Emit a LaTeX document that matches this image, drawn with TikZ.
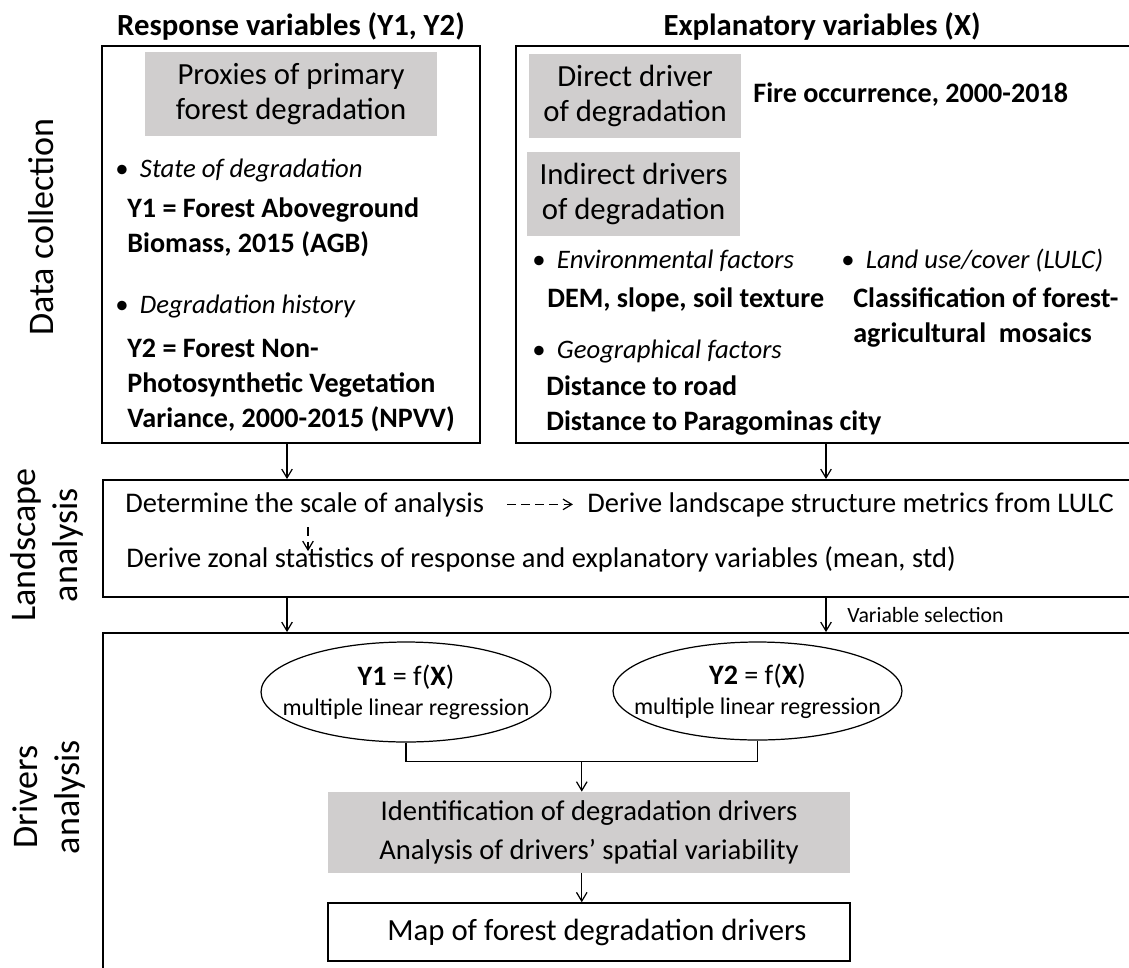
\documentclass[tikz,border=0pt]{standalone}
\usepackage{fontspec}
\setmainfont{Carlito}
\usepackage{xcolor}
\usepackage{tikz}
\usetikzlibrary{arrows.meta}
\usetikzlibrary{calc,positioning}
\usetikzlibrary{shapes,shapes.geometric}
\pgfdeclarelayer{edgelayer}
\pgfdeclarelayer{nodelayer}
\pgfsetlayers{edgelayer,nodelayer,main}
\definecolor{boxgray}{RGB}{208,206,206}
\tikzstyle{outerbox}=[draw=black,line width=1.1pt,inner sep=0pt]
\tikzstyle{graybox}=[fill=boxgray,inner sep=0pt,align=center,font=\fontsize{17.5}{19.8}\selectfont]
\tikzstyle{head}=[inner sep=0pt,anchor=base,font=\fontsize{17.5}{20}\selectfont\bfseries]
\tikzstyle{side}=[inner sep=0pt,rotate=90,align=center,font=\fontsize{20.5}{23.8}\selectfont]
\tikzstyle{cat}=[inner sep=0pt,anchor=base west,font=\fontsize{15.2}{18}\selectfont\itshape]
\tikzstyle{var}=[inner sep=0pt,anchor=base west,align=left,font=\fontsize{16}{19.8}\selectfont\bfseries]
\tikzstyle{txt}=[inner sep=0pt,anchor=base west,font=\fontsize{16.2}{19}\selectfont]
\tikzstyle{reg}=[draw,ellipse,line width=0.7pt,inner sep=0pt,minimum width=5.8cm,minimum height=2cm]
\tikzstyle{regtxt}=[inner sep=0pt,align=center,font=\fontsize{13.6}{17}\selectfont]
\tikzstyle{arr}=[-{Straight Barb[length=5pt,width=6pt]},line width=0.7pt]
\tikzstyle{dasharr}=[arr,dash pattern=on 5pt off 3pt]
\newcommand{\bitem}[1]{\makebox[14pt][l]{\upshape\textbullet}#1}
\newcommand{\fx}[1]{{\fontsize{16}{17}\selectfont\textbf{#1} = f(\textbf{X})}}

\begin{document}
\begin{tikzpicture}[x=0.02cm,y=-0.02cm]
	\useasboundingbox (0,0) rectangle (1129,967);
	\begin{pgfonlayer}{nodelayer}
		% frames of the three stages
		\node [outerbox,minimum width=7.56cm,minimum height=7.94cm] (resp) at (291,244.5) {};
		\node [outerbox,minimum width=12.68cm,minimum height=7.94cm] (expl) at (833,244.5) {};
		\node [outerbox,minimum width=20.94cm,minimum height=2.34cm] (land) at (626.5,538.5) {};
		\node [outerbox,minimum width=20.94cm,minimum height=7.34cm] (drv) at (626.5,816.5) {};
		\node [head] (resphead) at (291,35) {Response variables (Y1, Y2)};
		\node [head] (explhead) at (822,35) {Explanatory variables (X)};
		\node [side,anchor=base] (datalbl) at (53,227) {Data collection};
		\node [side] (landlbl) at (47,545) {Landscape\\analysis};
		\node [side] (drvlbl) at (49,797) {Drivers\\analysis};
		% data collection
		\node [graybox,minimum width=5.84cm,minimum height=1.68cm] (proxy) at (291,94) {Proxies of primary\\forest degradation};
		\node [cat] (state) at (115,177) {\bitem{State of degradation}};
		\node [var] (agb) at (127,252) {Y1 = Forest Aboveground\\Biomass, 2015 (AGB)};
		\node [cat] (hist) at (115,313) {\bitem{Degradation history}};
		\node [var] (npvv) at (127,427) {Y2 = Forest Non-\\Photosynthetic Vegetation\\Variance, 2000-2015 (NPVV)};
		\node [graybox,minimum width=4.24cm,minimum height=1.68cm] (direct) at (635,96) {Direct driver\\of degradation};
		\node [var] (fire) at (753,102) {Fire occurrence, 2000-2018};
		\node [graybox,minimum width=4.26cm,minimum height=1.68cm] (indirect) at (633.5,194) {Indirect drivers\\of degradation};
		\node [cat] (env) at (532,268) {\bitem{Environmental factors}};
		\node [cat] (lulc) at (841,268) {\bitem{Land use/cover (LULC)}};
		\node [var] (dem) at (547,307) {DEM, slope, soil texture};
		\node [var] (mosaic) at (853,342) {Classification of forest-\\agricultural\ \ mosaics};
		\node [cat] (geo) at (532,358) {\bitem{Geographical factors}};
		\node [var] (road) at (546,430) {Distance to road\\Distance to Paragominas city};
		% landscape analysis
		\node [txt] (scale) at (125,512) {Determine the scale of analysis};
		\node [txt] (metrics) at (587,512) {Derive landscape structure metrics from LULC};
		\node [txt] (zonal) at (126,567) {Derive zonal statistics of response and explanatory variables (mean, std)};
		\node [txt,font=\fontsize{12.4}{14}\selectfont] (varsel) at (847,622) {Variable selection};
		% drivers analysis
		\node [reg] (reg1) at (406,692) {};
		\node [regtxt] (reg1txt) at (reg1) {\fx{Y1}\\multiple linear regression};
		\node [reg,minimum width=5.78cm,minimum height=1.96cm] (reg2) at (757.5,691) {};
		\node [regtxt] (reg2txt) at (reg2) {\fx{Y2}\\multiple linear regression};
		\node [graybox,minimum width=10.44cm,minimum height=1.62cm,font=\fontsize{16.3}{22}\selectfont] (ident) at (589,832.5) {Identification of degradation drivers\\Analysis of drivers' spatial variability};
		\node [outerbox,line width=0.8pt,minimum width=10.44cm,minimum height=1.16cm,font=\fontsize{17.5}{20}\selectfont] (map) at (589,932) {\hspace{9pt}Map of forest degradation drivers};
	\end{pgfonlayer}
	\begin{pgfonlayer}{edgelayer}
		\coordinate (xl) at (287,0);
		\coordinate (xr) at (826,0);
		\coordinate (xd) at (308,0);
		\draw [arr] (resp.south -| xl) -- (land.north -| xl);
		\draw [arr] (expl.south -| xr) -- (land.north -| xr);
		\draw [arr] (land.south -| xl) -- (drv.north -| xl);
		\draw [arr] (land.south -| xr) -- (drv.north -| xr);
		\draw [dasharr,shorten <=13pt,shorten >=8pt] (scale.east) -- (metrics.west);
		\draw [dasharr,shorten <=6pt,shorten >=-3pt] (scale.south -| xd) -- (zonal.north -| xd);
		\coordinate (join) at ($(reg1.south)!0.5!(reg2.south)+(0,20)$);
		\draw [line width=0.8pt] (reg1.south) |- (join) -| (reg2.south);
		\draw [arr] (join) -- (join |- ident.north);
		\draw [arr] (ident.south -| join) -- (map.north -| join);
	\end{pgfonlayer}
\end{tikzpicture}
\end{document}
